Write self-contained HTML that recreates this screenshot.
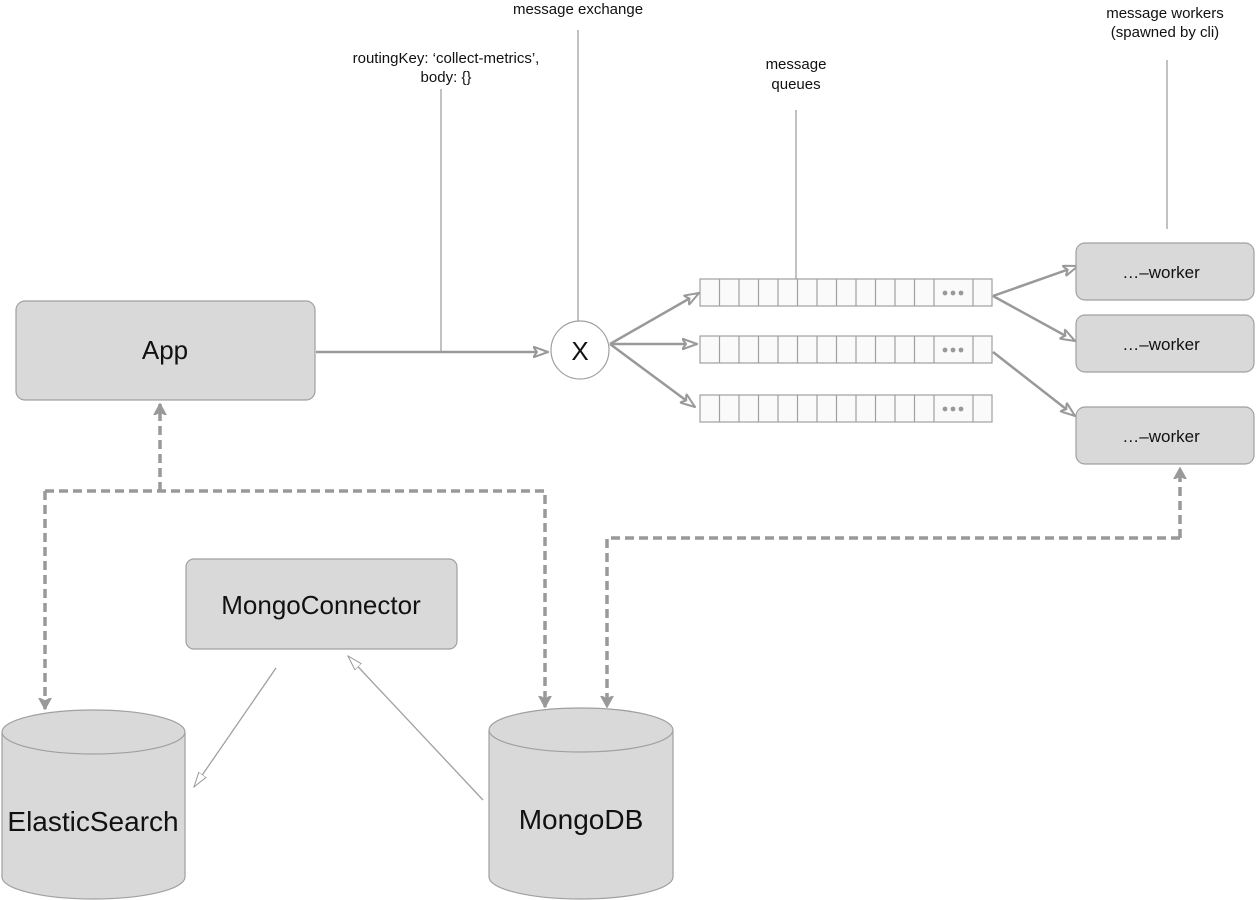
<!DOCTYPE html>
<html><head><meta charset="utf-8"><style>
html,body{margin:0;padding:0;background:#fff;}
svg{display:block;font-family:"Liberation Sans","DejaVu Sans",sans-serif;}
</style></head><body>
<svg width="1256" height="900" viewBox="0 0 1256 900" xmlns="http://www.w3.org/2000/svg">
<defs>
<marker id="a" viewBox="0 0 16 12" refX="15" refY="6" markerWidth="16" markerHeight="12" markerUnits="userSpaceOnUse" orient="auto">
<path d="M0,0.5 L15,6 L0,11.5 L4,6 Z" fill="#fff" stroke="#999" stroke-width="2"/></marker>
<marker id="d" viewBox="0 0 12 14" refX="11" refY="7" markerWidth="12" markerHeight="14" markerUnits="userSpaceOnUse" orient="auto">
<path d="M0,1 L11,7 L0,13 L3,7 Z" fill="#999" stroke="#999" stroke-width="1.5"/></marker>
<marker id="o" viewBox="0 0 16 11" refX="15" refY="5.5" markerWidth="16" markerHeight="11" markerUnits="userSpaceOnUse" orient="auto">
<path d="M0,1 L15,5.5 L0,10 Z" fill="#fff" stroke="#999" stroke-width="1"/></marker>
<g id="q">
<rect x="0" y="0" width="292" height="27" fill="#fafafa" stroke="#a0a0a0" stroke-width="1.2"/>
<path d="M19.5,0V27M39,0V27M58.5,0V27M78,0V27M97.5,0V27M117,0V27M136.5,0V27M156,0V27M175.5,0V27M195,0V27M214.5,0V27M234,0V27M273,0V27" stroke="#a0a0a0" stroke-width="1.2"/>
<circle cx="245" cy="14" r="2.4" fill="#999"/><circle cx="253" cy="14" r="2.4" fill="#999"/><circle cx="261" cy="14" r="2.4" fill="#999"/>
</g>
</defs>

<g stroke="#999" stroke-width="1.2">
<line x1="578" y1="30" x2="578" y2="321"/>
<line x1="441" y1="89" x2="441" y2="352"/>
<line x1="796" y1="110" x2="796" y2="280"/>
<line x1="1167" y1="60" x2="1167" y2="229"/>
</g>
<g font-size="15" fill="#111" text-anchor="middle">
<text x="578" y="14">message exchange</text>
<text x="446" y="63">routingKey: ‘collect-metrics’,</text>
<text x="446" y="82">body: {}</text>
<text x="796" y="69">message</text>
<text x="796" y="89">queues</text>
<text x="1165" y="18">message workers</text>
<text x="1165" y="37">(spawned by cli)</text>
</g>

<rect x="16" y="301" width="299" height="99" rx="9" fill="#d9d9d9" stroke="#a0a0a0" stroke-width="1.2"/>
<text x="165" y="359" font-size="26" text-anchor="middle" fill="#111">App</text>

<line x1="316" y1="352" x2="548" y2="352" stroke="#999" stroke-width="2.5" marker-end="url(#a)"/>

<circle cx="580" cy="350" r="29" fill="#fff" stroke="#a0a0a0" stroke-width="1.2"/>
<text x="580" y="360" font-size="26" text-anchor="middle" fill="#111">X</text>

<g stroke="#999" stroke-width="2.5" fill="none">
<line x1="610" y1="344" x2="699" y2="293" marker-end="url(#a)"/>
<line x1="610" y1="344" x2="697" y2="344" marker-end="url(#a)"/>
<line x1="610" y1="344" x2="695" y2="407" marker-end="url(#a)"/>
<line x1="993" y1="296" x2="1078" y2="266" marker-end="url(#a)"/>
<line x1="993" y1="296" x2="1075" y2="341" marker-end="url(#a)"/>
<line x1="993" y1="352" x2="1075" y2="416" marker-end="url(#a)"/>
</g>

<use href="#q" x="700" y="279"/>
<use href="#q" x="700" y="336"/>
<use href="#q" x="700" y="395"/>

<g fill="#d9d9d9" stroke="#a0a0a0" stroke-width="1.2">
<rect x="1076" y="243" width="178" height="57" rx="9"/>
<rect x="1076" y="315" width="178" height="57" rx="9"/>
<rect x="1076" y="407" width="178" height="57" rx="9"/>
</g>
<g font-size="17" text-anchor="middle" fill="#111">
<text x="1161" y="278">…–worker</text>
<text x="1161" y="350">…–worker</text>
<text x="1161" y="442">…–worker</text>
</g>

<rect x="186" y="559" width="271" height="90" rx="8" fill="#d9d9d9" stroke="#a0a0a0" stroke-width="1.2"/>
<text x="321" y="614" font-size="26" text-anchor="middle" fill="#111">MongoConnector</text>

<g fill="#d9d9d9" stroke="#a0a0a0" stroke-width="1.2">
<path d="M2,732 V877 A91.5,22 0 0 0 185,877 V732"/>
<ellipse cx="93.5" cy="732" rx="91.5" ry="22"/>
<path d="M489,730 V877 A92,22 0 0 0 673,877 V730"/>
<ellipse cx="581" cy="730" rx="92" ry="22"/>
</g>
<text x="93" y="831" font-size="28" text-anchor="middle" fill="#111">ElasticSearch</text>
<text x="581" y="829" font-size="28" text-anchor="middle" fill="#111">MongoDB</text>

<g stroke="#a0a0a0" stroke-width="1.3">
<line x1="276" y1="668" x2="194" y2="787" marker-end="url(#o)"/>
<line x1="483" y1="800" x2="348" y2="656" marker-end="url(#o)"/>
</g>

<g stroke="#999" stroke-width="3.5" fill="none" stroke-dasharray="9,5">
<polyline points="160,491 160,404" marker-end="url(#d)"/>
<polyline points="45,491 545,491 545,707" marker-end="url(#d)"/>
<polyline points="45,491 45,709" marker-end="url(#d)"/>
<polyline points="1180,538 1180,468" marker-end="url(#d)"/>
<polyline points="1180,538 607,538 607,707" marker-end="url(#d)"/>
</g>
</svg>
</body></html>
